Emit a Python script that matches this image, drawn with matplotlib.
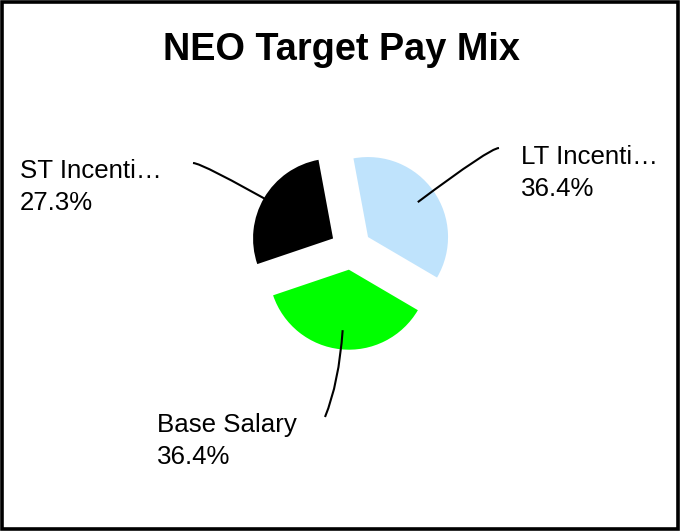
import matplotlib
matplotlib.use("Agg")
import matplotlib.pyplot as plt
from matplotlib.path import Path
from matplotlib.patches import PathPatch, Rectangle
from matplotlib.transforms import Affine2D
import numpy as np

# ---- data ----
categories = ["LT Incenti…", "Base Salary", "ST Incenti…"]
values = [4, 4, 3]
colors = ["#BFE3FC", "#00FF00", "#000000"]
title = "NEO Target Pay Mix"

# ---- layout ----
W, H = 680, 532
CX, CY, PPU = 351, 249, 80          # pie centre (px from top-left) and px per data unit
FONT = "Liberation Sans"

fig = plt.figure(figsize=(W / 100, H / 100), dpi=100)
fig.patch.set_facecolor("white")
ax = fig.add_axes([0, 0, 1, 1])
wedges, _ = ax.pie(values, colors=colors, startangle=100.5, counterclock=False,
                   explode=[0.26] * len(values), radius=1,
                   wedgeprops=dict(linewidth=0))
ax.set_xlim(-CX / PPU, (W - CX) / PPU)
ax.set_ylim(-(H - CY) / PPU, CY / PPU)
ax.set_aspect("auto")
ax.axis("off")

# transform: pixels from the top-left corner of the figure
pxT = Affine2D().scale(1 / W, -1 / H).translate(0, 1) + fig.transFigure

fig.text(341.5, 60, title, transform=pxT, ha="center", va="baseline",
         fontsize=27.3, fontweight="bold", family=FONT)

total = sum(values)
# label anchors (left x, first baseline) and leader end / control points in px
label_pos = [(521, 164), (157, 432), (20, 178)]
leader_end = [(499, 148), (325, 417), (193, 163)]
leader_ctrl = [(490, 148), (339, 383), (202, 163)]

for w, cat, v, lp, le, lc in zip(wedges, categories, values, label_pos, leader_end, leader_ctrl):
    mid = np.deg2rad((w.theta1 + w.theta2) / 2)
    sx, sy = w.center[0] + 0.76 * w.r * np.cos(mid), w.center[1] + 0.76 * w.r * np.sin(mid)
    spx, spy = CX + sx * PPU, CY - sy * PPU
    path = Path([(spx, spy), lc, le], [Path.MOVETO, Path.CURVE3, Path.CURVE3])
    fig.add_artist(PathPatch(path, transform=pxT, facecolor="none",
                             edgecolor="black", lw=1.5))
    fig.text(lp[0], lp[1], cat, transform=pxT, ha="left", va="baseline",
             fontsize=18.6, family=FONT)
    fig.text(lp[0], lp[1] + 31.5, f"{v / total * 100:.1f}%", transform=pxT,
             ha="left", va="baseline", fontsize=18.6, family=FONT)

# figure border
fig.add_artist(Rectangle((1.5, 1.5), 676.5, 527.5, transform=pxT, fill=False,
                         edgecolor="black", lw=2.6))

fig.savefig("out.png", dpi=100)
